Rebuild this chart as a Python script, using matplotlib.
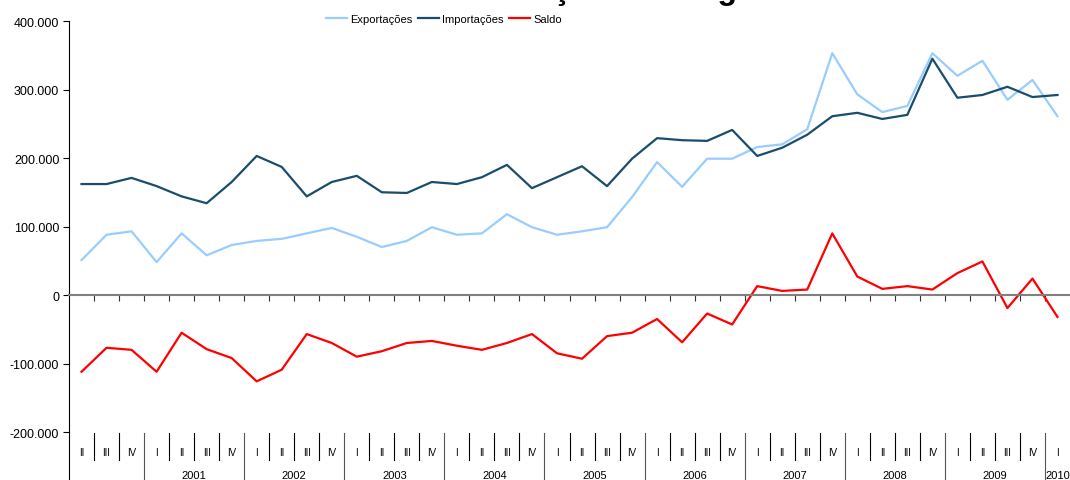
import matplotlib.pyplot as plt
from matplotlib.ticker import FuncFormatter

plt.rcParams['font.family'] = ['Liberation Sans', 'DejaVu Sans']

# trimestres de 2000-II a 2010-I
trimestres = ['II', 'III', 'IV'] + ['I', 'II', 'III', 'IV'] * 9 + ['I']
anos = ['', '2001', '2002', '2003', '2004', '2005', '2006', '2007', '2008', '2009', '2010']
anos_qtd = [3, 4, 4, 4, 4, 4, 4, 4, 4, 4, 1]

exportacoes = [51, 88, 93, 48, 90, 58, 73, 79, 82, 90,
               98, 85, 70, 79, 99, 88, 90, 118, 99, 88,
               93, 99, 143, 194, 158, 199, 199, 216, 220, 242,
               353, 293, 267, 276, 353, 320, 342, 285, 314, 261]
importacoes = [162, 162, 171, 159, 144, 134, 165, 203, 187, 144,
               165, 174, 150, 149, 165, 162, 172, 190, 156, 172,
               188, 159, 199, 229, 226, 225, 241, 203, 215, 234,
               261, 266, 257, 263, 345, 288, 292, 304, 289, 292]
saldo = [-112, -77, -80, -112, -55, -79, -92, -126, -109, -57,
         -70, -90, -82, -70, -67, -74, -80, -70, -57, -85,
         -93, -60, -55, -35, -69, -27, -43, 13, 6, 8,
         90, 27, 9, 13, 8, 32, 49, -19, 24, -32]

exportacoes = [v * 1000 for v in exportacoes]
importacoes = [v * 1000 for v in importacoes]
saldo = [v * 1000 for v in saldo]

x = list(range(len(trimestres)))

fig = plt.figure(figsize=(10.7, 4.81), dpi=100)
ax = fig.add_axes([69 / 1070, 0, 1001 / 1070, 459 / 481])

ax.plot(x, exportacoes, color='#99CCFF', lw=1.6, label='Exportações')
ax.plot(x, importacoes, color='#1A4D6B', lw=1.6, label='Importações')
ax.plot(x, saldo, color='#FF0000', lw=1.6, label='Saldo')

ax.set_xlim(-0.5, len(x) - 0.5)
ax.set_ylim(-270000, 400000)

ax.spines['top'].set_visible(False)
ax.spines['right'].set_visible(False)
ax.spines['left'].set_color('black')
ax.spines['left'].set_linewidth(0.8)
ax.spines['bottom'].set_position(('data', 0))
ax.spines['bottom'].set_color('#808080')
ax.spines['bottom'].set_linewidth(1.5)

ax.set_yticks(range(-200000, 400001, 100000))
ax.yaxis.set_major_formatter(FuncFormatter(lambda v, p: f'{int(v):,}'.replace(',', '.')))
ax.tick_params(axis='y', labelsize=9, length=4, width=0.8, pad=3)
ax.set_xticks([i + 0.5 for i in x[:-1]])
ax.tick_params(axis='x', labelbottom=False, length=4, width=0.8, color='#333333')

# rótulos de categoria em dois níveis
tr = ax.get_xaxis_transform()
for i, q in enumerate(trimestres):
    ax.text(i, 0.061, q, transform=tr, ha='center', va='center', fontsize=7)

fronteiras = []
pos = -0.5
for n in anos_qtd[:-1]:
    pos += n
    fronteiras.append(pos)
for i in x[:-1]:
    b = i + 0.5
    if b in fronteiras:
        ax.plot([b, b], [0, 0.1024], transform=tr, color='#555555', lw=0.8, clip_on=False)
    else:
        ax.plot([b, b], [0.0436, 0.1024], transform=tr, color='black', lw=0.8, clip_on=False)

inicio = -0.5
for ano, n in zip(anos, anos_qtd):
    centro = inicio + n / 2
    if n == 1:
        centro = inicio + 0.5
    ax.text(centro, 0.011, ano, transform=tr, ha='center', va='center', fontsize=8)
    inicio += n

fig.legend(loc='center', bbox_to_anchor=(444 / 1070, 1 - 20 / 481), ncol=3, frameon=False,
           fontsize=8, handlelength=1.9, handletextpad=0.3, columnspacing=0.5,
           borderaxespad=0)

fig.text(0.505, 1.002, 'Gráfico 1 - Balança Tecnológica', ha='center', va='baseline',
         fontsize=23, fontweight='bold')

fig.savefig('out.png', dpi=100)
